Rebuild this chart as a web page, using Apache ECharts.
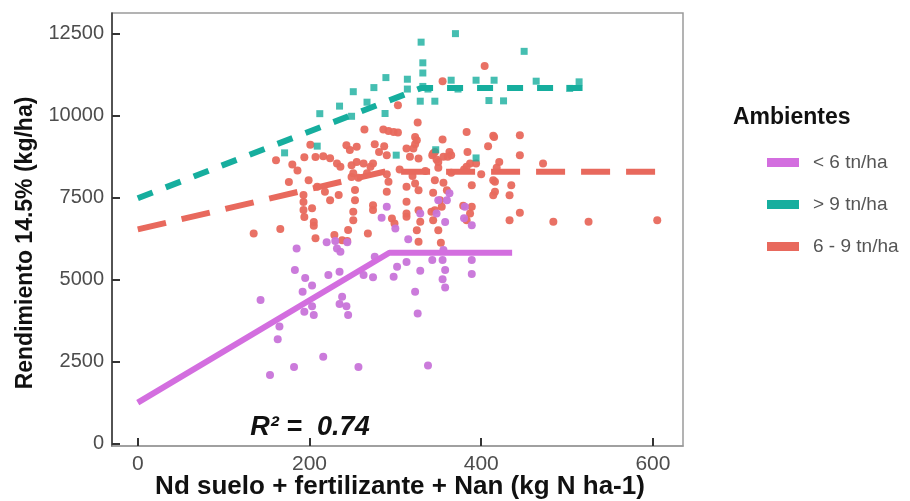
<!DOCTYPE html>
<html>
<head>
<meta charset="utf-8">
<script src="https://cdn.jsdelivr.net/npm/echarts@6/dist/echarts.min.js"></script>
<style>
html,body{margin:0;padding:0;background:#fff;}
#chart{width:910px;height:501px;}
</style>
</head>
<body>
<div id="chart"></div>
<script>
// ---- data ----
const xTicks = [0, 200, 400, 600];
const yTicks = [0, 2500, 5000, 7500, 10000, 12500];
const groupNames = ['< 6 tn/ha', '> 9 tn/ha', '6 - 9 tn/ha'];

// < 6 tn/ha observations [N, yield]
const lowPoints = [
  [143,4370],[154,2080],[163,3170],[165,3560],[182,2330],[183,5280],[185,5940],[192,4620],
  [194,4010],[195,5040],[203,4810],[203,4180],[205,3910],[216,2640],[220,6130],[222,5130],
  [230,6170],[232,5940],[236,5840],[235,5230],[244,6130],[238,4470],[235,4250],[243,4180],
  [245,3910],[257,2330],[263,5130],[274,5060],[276,5690],[284,6880],[290,7210],[298,5080],
  [300,6550],[302,5380],[313,5530],[315,6220],[323,4620],[326,3960],[329,7010],[329,5260],
  [338,2370],[343,5590],[348,7010],[350,7410],[355,5590],[356,5890],[358,5280],[355,5000],
  [358,4750],[358,6750],[360,7410],[363,7620],[381,7210],[380,6860],[389,6650],[389,5590],
  [389,5160]
];
// > 9 tn/ha observations
const highPoints = [
  [171,8855],[209,9060],[212,10050],[235,10280],[251,10720],[267,10400],[275,10845],[289,11150],
  [288,10055],[301,8785],[314,11100],[314,10800],[330,12230],[332,11600],[332,11290],[329,10430],
  [338,10800],[346,10430],[347,8950],[365,11070],[370,12490],[373,10800],[394,11070],[394,8700],
  [409,10450],[415,11070],[426,10440],[450,11950],[464,11040],[503,10820],[514,11020],[249,9970],
  [332,10880]
];
// 6 - 9 tn/ha observations
const midPoints = [
  [135,6400],[161,8630],[166,6530],[176,7970],[180,8500],[186,8320],[199,8020],[201,9100],
  [194,8720],[207,8730],[216,8750],[224,8690],[232,8530],[236,8430],[193,7570],[193,7360],
  [193,7110],[194,6900],[203,7170],[205,6630],[207,6250],[205,6750],[209,7820],[218,7670],
  [224,7410],[234,7570],[229,6350],[238,6190],[244,6170],[245,6500],[249,8480],[249,8120],
  [253,7720],[253,7410],[251,7060],[251,6800],[268,6400],[274,7260],[274,7110],[243,9090],
  [247,8940],[255,9040],[264,9570],[255,8580],[251,8230],[257,8100],[263,8530],[267,8230],
  [274,8530],[271,8430],
  [276,9120],[287,9060],[281,8885],[290,8785],[286,9570],[292,9525],[298,9494],[303,9476],
  [326,9781],[323,9342],[355,9263],[383,9494],[415,9342],[323,9119],[321,8988],[325,9241],
  [313,8988],[317,8733],[346,8885],[343,8785],[348,8652],[356,8733],[363,8885],[365,8785],
  [384,8885],[408,9058],[414,9373],[445,9393],[445,8785],[421,8580],[472,8531],[404,11505],
  [355,11040],[303,10308],[344,8836],[350,8580],[361,8733],[327,8684],[387,8531],[394,8531],
  [383,8428],
  [290,8200],[305,8350],[320,8150],[335,8300],[350,8400],[365,8250],[380,8350],[400,8200],
  [418,8400],
  [292,7971],[290,7666],[313,7819],[327,7717],[323,7921],[346,8022],[356,7941],[360,7717],
  [389,7870],[416,7971],[416,7666],[414,7565],[435,7870],[433,7565],[414,8022],
  [313,7362],[344,7636],[352,7413],[354,7209],[346,7108],[344,6804],[379,7240],[389,7209],
  [387,7008],[383,6804],
  [296,6856],[313,6906],[327,7108],[329,6752],[299,6703],[325,6499],[350,6499],[353,6112],
  [327,6143],[342,7057],[313,7008],
  [433,6804],[445,7026],[484,6752],[525,6752],[605,6804]
];

// fitted linear-plateau models
const lowFitX = [0, 293, 436];
const lowFitY = [1240, 5810, 5810];
const highFitX = [0, 330, 518];
const highFitY = [7470, 10830, 10830];
const midFitX = [0, 287, 605];
const midFitY = [6520, 8280, 8280];

const r2Label = 'R² =  0.74';

// ---- chart ----
const zip = (xs, ys) => xs.map((x, i) => [x, ys[i]]);
const C_LOW = '#D36EDF', C_HIGH = '#16AE9E', C_MID = '#E8695D';
const FONT = 'Liberation Sans, Arial, sans-serif';
const chart = echarts.init(document.getElementById('chart'), null, {renderer: 'canvas'});

const option = {
  animation: false,
  backgroundColor: '#fff',
  grid: {left: 112, right: 227, top: 13, bottom: 55, show: true, borderColor: '#9a9a9a', borderWidth: 1.5, backgroundColor: 'transparent'},
  title: {
    text: 'Ambientes', left: 728, top: 101,
    textStyle: {fontFamily: FONT, fontWeight: 'bold', fontSize: 23, color: '#111'}
  },
  legend: {
    orient: 'vertical', left: 762, top: 148, itemGap: 23, itemWidth: 32, itemHeight: 9,
    icon: 'rect', selectedMode: false,
    data: groupNames,
    textStyle: {fontFamily: FONT, fontSize: 19, color: '#555', lineHeight: 18, padding: [0, 0, 0, 9]}
  },
  xAxis: {
    type: 'value', min: -30, max: 635,
    splitLine: {show: false},
    axisLine: {show: true, onZero: false, lineStyle: {color: '#9a9a9a', width: 1.5}},
    axisTick: {show: true, inside: true, length: 8, customValues: xTicks, lineStyle: {color: '#333', width: 2}},
    axisLabel: {customValues: xTicks, margin: 8, fontFamily: FONT, fontSize: 21, color: '#4d4d4d', formatter: v => String(v)}
  },
  yAxis: {
    type: 'value', min: -82, max: 13119,
    splitLine: {show: false},
    axisLine: {show: true, onZero: false, lineStyle: {color: '#333', width: 1.5}},
    axisTick: {show: true, inside: true, length: 8, customValues: yTicks, lineStyle: {color: '#333', width: 2}},
    axisLabel: {customValues: yTicks, margin: 8, fontFamily: FONT, fontSize: 20, color: '#4d4d4d', formatter: v => String(v)}
  },
  graphic: [
    {type: 'text', x: 400, y: 487, style: {text: 'Nd suelo + fertilizante + Nan (kg N ha-1)', fontFamily: FONT, fontWeight: 'bold', fontSize: 26, fill: '#111', align: 'center', verticalAlign: 'middle'}},
    {type: 'text', x: 26, y: 243, rotation: Math.PI / 2, style: {text: 'Rendimiento 14.5% (kg/ha)', fontFamily: FONT, fontWeight: 'bold', fontSize: 23, fill: '#111', align: 'center', verticalAlign: 'middle'}},
    {type: 'text', x: 310, y: 428, style: {text: r2Label, fontFamily: FONT, fontWeight: 'bold', fontStyle: 'italic', fontSize: 27, fill: '#111', align: 'center', verticalAlign: 'middle'}}
  ],
  series: [
    {name: 'obs 6-9', type: 'scatter', data: midPoints, symbol: 'circle', symbolSize: 8, itemStyle: {color: C_MID, opacity: 0.95}, z: 2},
    {name: 'obs <6', type: 'scatter', data: lowPoints, symbol: 'circle', symbolSize: 8, itemStyle: {color: '#C874D9', opacity: 0.95}, z: 2},
    {name: 'obs >9', type: 'scatter', data: highPoints, symbol: 'rect', symbolSize: 7, itemStyle: {color: C_HIGH}, z: 2},
    {name: groupNames[0], type: 'line', data: zip(lowFitX, lowFitY), symbol: 'none', color: C_LOW, itemStyle: {color: C_LOW}, lineStyle: {color: C_LOW, width: 6, type: 'solid'}, z: 3},
    {name: groupNames[1], type: 'line', data: zip(highFitX, highFitY), symbol: 'none', color: C_HIGH, itemStyle: {color: C_HIGH}, lineStyle: {color: C_HIGH, width: 6, type: [16, 14], cap: 'butt'}, z: 3},
    {name: groupNames[2], type: 'line', data: zip(midFitX, midFitY), symbol: 'none', color: C_MID, itemStyle: {color: C_MID}, lineStyle: {color: C_MID, width: 6, type: [29, 16], cap: 'butt'}, z: 3}
  ]
};
chart.setOption(option);
</script>
</body>
</html>
